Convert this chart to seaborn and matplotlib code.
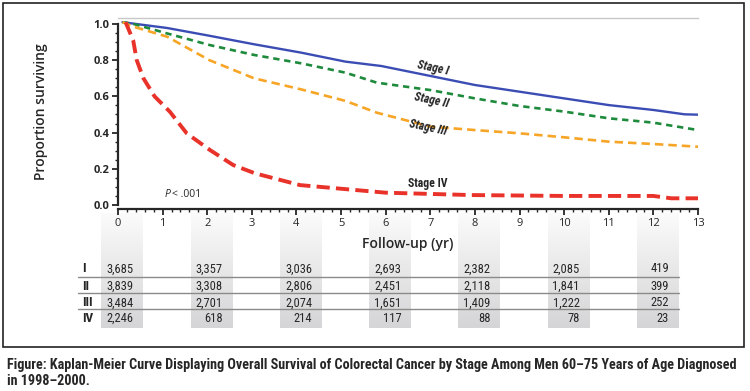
import numpy as np
import pandas as pd
import matplotlib
matplotlib.use("Agg")
import matplotlib.pyplot as plt
import seaborn as sns
from matplotlib import font_manager as fm
from matplotlib.colors import LinearSegmentedColormap
from matplotlib.patches import Rectangle
from matplotlib.ticker import MultipleLocator

# ---------------------------------------------------------------------------
# Data
# ---------------------------------------------------------------------------
stage1_t = [0.1, 1.1, 2.05, 3.05, 4.1, 5.1, 5.9, 7.0, 8.0, 9.0, 10.0, 11.0, 12.0, 12.7, 13.0]
stage1_s = [1.01, 0.978, 0.935, 0.888, 0.842, 0.792, 0.768, 0.713, 0.663, 0.626, 0.589, 0.552, 0.525, 0.501, 0.499]

stage2_t = [0.1, 0.35, 1.1, 2.05, 3.05, 4.1, 5.1, 5.8, 7.0, 8.0, 9.0, 10.0, 11.0, 12.0, 13.0]
stage2_s = [1.01, 1.0, 0.948, 0.884, 0.829, 0.783, 0.731, 0.676, 0.635, 0.589, 0.547, 0.516, 0.479, 0.455, 0.414]

stage3_t = [0.1, 0.35, 1.1, 2.05, 3.05, 4.1, 5.1, 5.8, 7.0, 8.0, 9.0, 10.0, 11.0, 12.0, 13.0]
stage3_s = [1.01, 0.985, 0.93, 0.80, 0.70, 0.639, 0.575, 0.51, 0.433, 0.414, 0.396, 0.374, 0.35, 0.337, 0.322]

stage4_t = [0.17, 0.34, 0.42, 0.57, 0.82, 1.16, 1.54, 2.06, 2.58, 3.07, 4.08, 5.13, 6.0, 7.9, 10.0, 12.0, 12.4, 13.0]
stage4_s = [1.01, 0.91, 0.80, 0.70, 0.60, 0.516, 0.396, 0.304, 0.221, 0.175, 0.11, 0.087, 0.068, 0.055, 0.05, 0.05, 0.037, 0.037]

stage_names = ["Stage I", "Stage II", "Stage III", "Stage IV"]
row_labels = ["I", "II", "III", "IV"]

# number at risk
risk_times = [0, 2, 4, 6, 8, 10, 12]
risk_I = ["3,685", "3,357", "3,036", "2,693", "2,382", "2,085", "419"]
risk_II = ["3,839", "3,308", "2,806", "2,451", "2,118", "1,841", "399"]
risk_III = ["3,484", "2,701", "2,074", "1,651", "1,409", "1,222", "252"]
risk_IV = ["2,246", "618", "214", "117", "88", "78", "23"]

caption_1 = ("Figure: Kaplan-Meier Curve Displaying Overall Survival of Colorectal Cancer "
             "by Stage Among Men 60\u201375 Years of Age Diagnosed")
caption_2 = "in 1998\u20132000."

# ---------------------------------------------------------------------------
# Styling
# ---------------------------------------------------------------------------
sns.set_style("ticks")
plt.rcParams["font.family"] = ["Open Sans", "DejaVu Sans"]


def narrow_font():
    """Pick a condensed face if one is installed, else a fairly narrow sans."""
    entries = fm.fontManager.ttflist
    names = {f.name for f in entries}
    for n in ["Liberation Sans Narrow", "Roboto Condensed", "Open Sans Condensed",
              "Noto Sans Condensed", "DejaVu Sans Condensed"]:
        if n in names:
            return dict(family=n)
    for n in ["Noto Sans", "Open Sans", "Roboto", "DejaVu Sans"]:
        if any(f.name == n and "condensed" in str(f.stretch) for f in entries):
            return dict(family=n, stretch="condensed")
    return dict(family="Liberation Sans")


NARROW = narrow_font()

colors = {"Stage I": "#3b4db4", "Stage II": "#1d8a3c",
          "Stage III": "#f7a526", "Stage IV": "#e8322a"}
widths = {"Stage I": 1.7, "Stage II": 1.9, "Stage III": 1.9, "Stage IV": 2.8}
dashes = {"Stage I": "", "Stage II": (2.4, 1.8), "Stage III": (3.2, 1.9), "Stage IV": (3.4, 1.6)}

curves = pd.concat([
    pd.DataFrame({"t": t, "s": s, "stage": name})
    for t, s, name in zip([stage1_t, stage2_t, stage3_t, stage4_t],
                          [stage1_s, stage2_s, stage3_s, stage4_s], stage_names)
])

W, H = 750, 391
fig = plt.figure(figsize=(W / 100, H / 100), dpi=100)

# main axes in pixel layout
x0_px, x1_px = 118, 698
y0_px, ytop_px = 205, 18
ax = fig.add_axes([x0_px / W, 1 - y0_px / H, (x1_px - x0_px) / W, (y0_px - ytop_px) / H], zorder=2)
ax.patch.set_alpha(0)

for name in stage_names:
    sub = curves[curves["stage"] == name]
    sns.lineplot(data=sub, x="t", y="s", ax=ax, color=colors[name], lw=widths[name],
                 sort=False, estimator=None, legend=False)
    line = ax.lines[-1]
    if dashes[name]:
        line.set_dashes(dashes[name])

ax.set_xlim(0, 13)
ax.set_ylim(0, (y0_px - ytop_px) / 181)
ax.set_xticks(range(0, 14))
ax.set_yticks(np.arange(0, 1.01, 0.2))
ax.set_yticklabels([f"{v:.1f}" for v in np.arange(0, 1.01, 0.2)])
ax.xaxis.set_minor_locator(MultipleLocator(0.2))
ax.yaxis.set_minor_locator(MultipleLocator(0.05))
ax.tick_params(which="major", length=4, width=1.3, labelsize=8, pad=2)
ax.tick_params(which="minor", length=2.5, width=1)
for lab in ax.get_xticklabels() + ax.get_yticklabels():
    lab.set_fontweight("bold")
ax.spines["left"].set_bounds(0, 1.0)
ax.spines["left"].set_linewidth(1.6)
ax.spines["bottom"].set_linewidth(1.6)
ax.spines["bottom"].set_position(("outward", 3))
ax.spines["right"].set_visible(False)
ax.spines["top"].set_color("#c8c8c8")
ax.spines["top"].set_linewidth(1)
ax.set_xlabel("Follow-up (yr)", fontsize=10, fontweight="semibold", labelpad=6)
ax.set_ylabel("Proportion surviving", fontsize=10, fontweight="semibold", labelpad=33)

# curve labels
lab_kw = dict(ha="center", va="center", fontsize=8.5, fontweight="bold", **NARROW)
ax.text(7.06, 0.757, "Stage I", rotation=-12, style="italic", **lab_kw)
ax.text(7.03, 0.58, "Stage II", rotation=-12, style="italic", **lab_kw)
ax.text(6.95, 0.425, "Stage III", rotation=-12, style="italic", **lab_kw)
ax.text(6.95, 0.12, "Stage IV", **lab_kw)
ax.text(1.05, 0.06, "P", fontsize=7.5, style="italic", ha="left", va="center")
ax.text(1.22, 0.06, "< .001", fontsize=7.5, ha="left", va="center")

# ---------------------------------------------------------------------------
# Number-at-risk table on a background axes sharing the x scale
# ---------------------------------------------------------------------------
yr_per_px = 13 / (x1_px - x0_px)
tab = fig.add_axes([0, 0, 1, 1], zorder=1)
grad_cmap = LinearSegmentedColormap.from_list("col", ["#fbfbfb", "#d5d5d7"])
grad = np.linspace(0, 1, 120).reshape(-1, 1)
col_w = 0.94
for t in risk_times:
    c = t + 0.1
    tab.imshow(grad, cmap=grad_cmap, aspect="auto", interpolation="bilinear",
               extent=[c - col_w / 2, c + col_w / 2, 328, 213], origin="upper")

row_y = [269, 286, 303, 318]
for lab, vals, y in zip(row_labels, [risk_I, risk_II, risk_III, risk_IV], row_y):
    tab.text(-0.81, y, lab, ha="left", va="center", fontsize=9.5, fontweight="bold", **NARROW)
    for t, v in zip(risk_times, vals):
        tab.text(t + 0.1 + col_w / 2 - 0.22, y, v, ha="right", va="center", fontsize=9, **NARROW)
for y in [277, 293, 309]:
    tab.plot([-0.9, 12.1 + col_w / 2], [y, y], color="#8a8a8a", lw=1)

tab.set_xlim(-x0_px * yr_per_px, (W - x0_px) * yr_per_px)
tab.set_ylim(H, 0)
tab.axis("off")

# frame and caption
fig.patches.append(Rectangle((3 / W, 1 - 347 / H), 741 / W, 344 / H, transform=fig.transFigure,
                             fill=False, ec="#222222", lw=1.2))
cap1 = fig.text(7 / W, 1 - 365 / H, caption_1, fontsize=9.5, fontweight="bold", va="center", **NARROW)
cap2 = fig.text(7 / W, 1 - 381 / H, caption_2, fontsize=9.5, fontweight="bold", va="center", **NARROW)

# size the caption so its first line spans the same width as in the original
fig.canvas.draw()
w_now = cap1.get_window_extent().width
size = min(11.0, 9.5 * 733 / w_now)
cap1.set_fontsize(size)
cap2.set_fontsize(size)

fig.savefig("out.png", dpi=100)
